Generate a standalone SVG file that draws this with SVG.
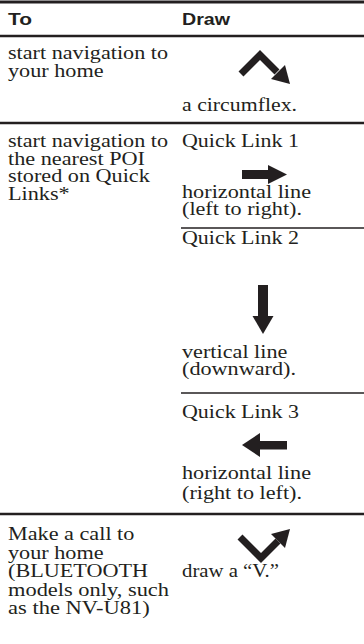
<svg xmlns="http://www.w3.org/2000/svg" width="364" height="644" viewBox="0 0 364 644">
<style>
.h{font-family:"Liberation Sans",Arial,sans-serif;font-weight:bold;font-size:16.3px;fill:#231f20}
.t{font-family:"Liberation Serif","Times New Roman",serif;font-size:18px;fill:#231f20}
.rule{stroke:#231f20;fill:none}
.ar{fill:#231f20}
.arl{stroke:#231f20;stroke-width:7;fill:none;stroke-linejoin:miter}
</style>
<rect width="364" height="644" fill="#ffffff"/>
<g id="rules">
<line class="rule" x1="0" y1="2" x2="364" y2="2" stroke-width="3"/>
<line class="rule" x1="0" y1="36" x2="364" y2="36" stroke-width="2.5"/>
<line class="rule" x1="0" y1="123" x2="364" y2="123" stroke-width="2.5"/>
<line class="rule" x1="181" y1="228" x2="364" y2="228" stroke-width="1.6"/>
<line class="rule" x1="181" y1="393" x2="364" y2="393" stroke-width="1.6"/>
<line class="rule" x1="0" y1="514" x2="364" y2="514" stroke-width="2.5"/>
</g>
<g id="header">
<text class="h" x="8" y="25" textLength="24" lengthAdjust="spacingAndGlyphs">To</text>
<text class="h" x="182" y="25" textLength="48" lengthAdjust="spacingAndGlyphs">Draw</text>
</g>
<g id="row-home">
<text class="t" x="8" y="59" textLength="160" lengthAdjust="spacingAndGlyphs">start navigation to</text>
<text class="t" x="8" y="77" textLength="95.6" lengthAdjust="spacingAndGlyphs">your home</text>
<polyline class="arl" points="241,74 260,55 277,72"/>
<polygon class="ar" points="290,84 271,79 285,65"/>
<text class="t" x="182" y="111" textLength="115" lengthAdjust="spacingAndGlyphs">a circumflex.</text>
</g>
<g id="row-poi">
<text class="t" x="8" y="147" textLength="160" lengthAdjust="spacingAndGlyphs">start navigation to</text>
<text class="t" x="8" y="164.5" textLength="137" lengthAdjust="spacingAndGlyphs">the nearest POI</text>
<text class="t" x="8" y="182" textLength="141.8" lengthAdjust="spacingAndGlyphs">stored on Quick</text>
<text class="t" x="8" y="199.5" textLength="61.7" lengthAdjust="spacingAndGlyphs">Links*</text>
</g>
<g id="ql1">
<text class="t" x="182" y="147" textLength="117" lengthAdjust="spacingAndGlyphs">Quick Link 1</text>
<rect class="ar" x="242" y="170" width="28" height="9"/>
<polygon class="ar" points="268,165 287,174.5 268,184"/>
<text class="t" x="182" y="197.5" textLength="129" lengthAdjust="spacingAndGlyphs">horizontal line</text>
<text class="t" x="182" y="214.5" textLength="120" lengthAdjust="spacingAndGlyphs">(left to right).</text>
</g>
<g id="ql2">
<text class="t" x="182" y="243.5" textLength="117" lengthAdjust="spacingAndGlyphs">Quick Link 2</text>
<rect class="ar" x="258" y="285" width="10" height="33"/>
<polygon class="ar" points="252.5,316 273.5,316 263,334"/>
<text class="t" x="182" y="358" textLength="105.4" lengthAdjust="spacingAndGlyphs">vertical line</text>
<text class="t" x="182" y="375" textLength="114" lengthAdjust="spacingAndGlyphs">(downward).</text>
</g>
<g id="ql3">
<text class="t" x="182" y="418" textLength="117" lengthAdjust="spacingAndGlyphs">Quick Link 3</text>
<polygon class="ar" points="242,445 260,433 260,457"/>
<rect class="ar" x="259" y="441" width="28" height="8.5"/>
<text class="t" x="182" y="479" textLength="129" lengthAdjust="spacingAndGlyphs">horizontal line</text>
<text class="t" x="182" y="498.5" textLength="120" lengthAdjust="spacingAndGlyphs">(right to left).</text>
</g>
<g id="row-call">
<text class="t" x="8" y="540" textLength="126.4" lengthAdjust="spacingAndGlyphs">Make a call to</text>
<text class="t" x="8" y="558.5" textLength="95.6" lengthAdjust="spacingAndGlyphs">your home</text>
<text class="t" x="8" y="577" textLength="140" lengthAdjust="spacingAndGlyphs">(BLUETOOTH</text>
<text class="t" x="8" y="595.5" textLength="161" lengthAdjust="spacingAndGlyphs">models only, such</text>
<text class="t" x="8" y="614" textLength="141.8" lengthAdjust="spacingAndGlyphs">as the NV-U81)</text>
<polyline class="arl" points="240,537 261,558 278,541"/>
<polygon class="ar" points="290,529 285,548 271,534"/>
<text class="t" x="182" y="577" textLength="97" lengthAdjust="spacingAndGlyphs">draw a “V.”</text>
</g>
</svg>
